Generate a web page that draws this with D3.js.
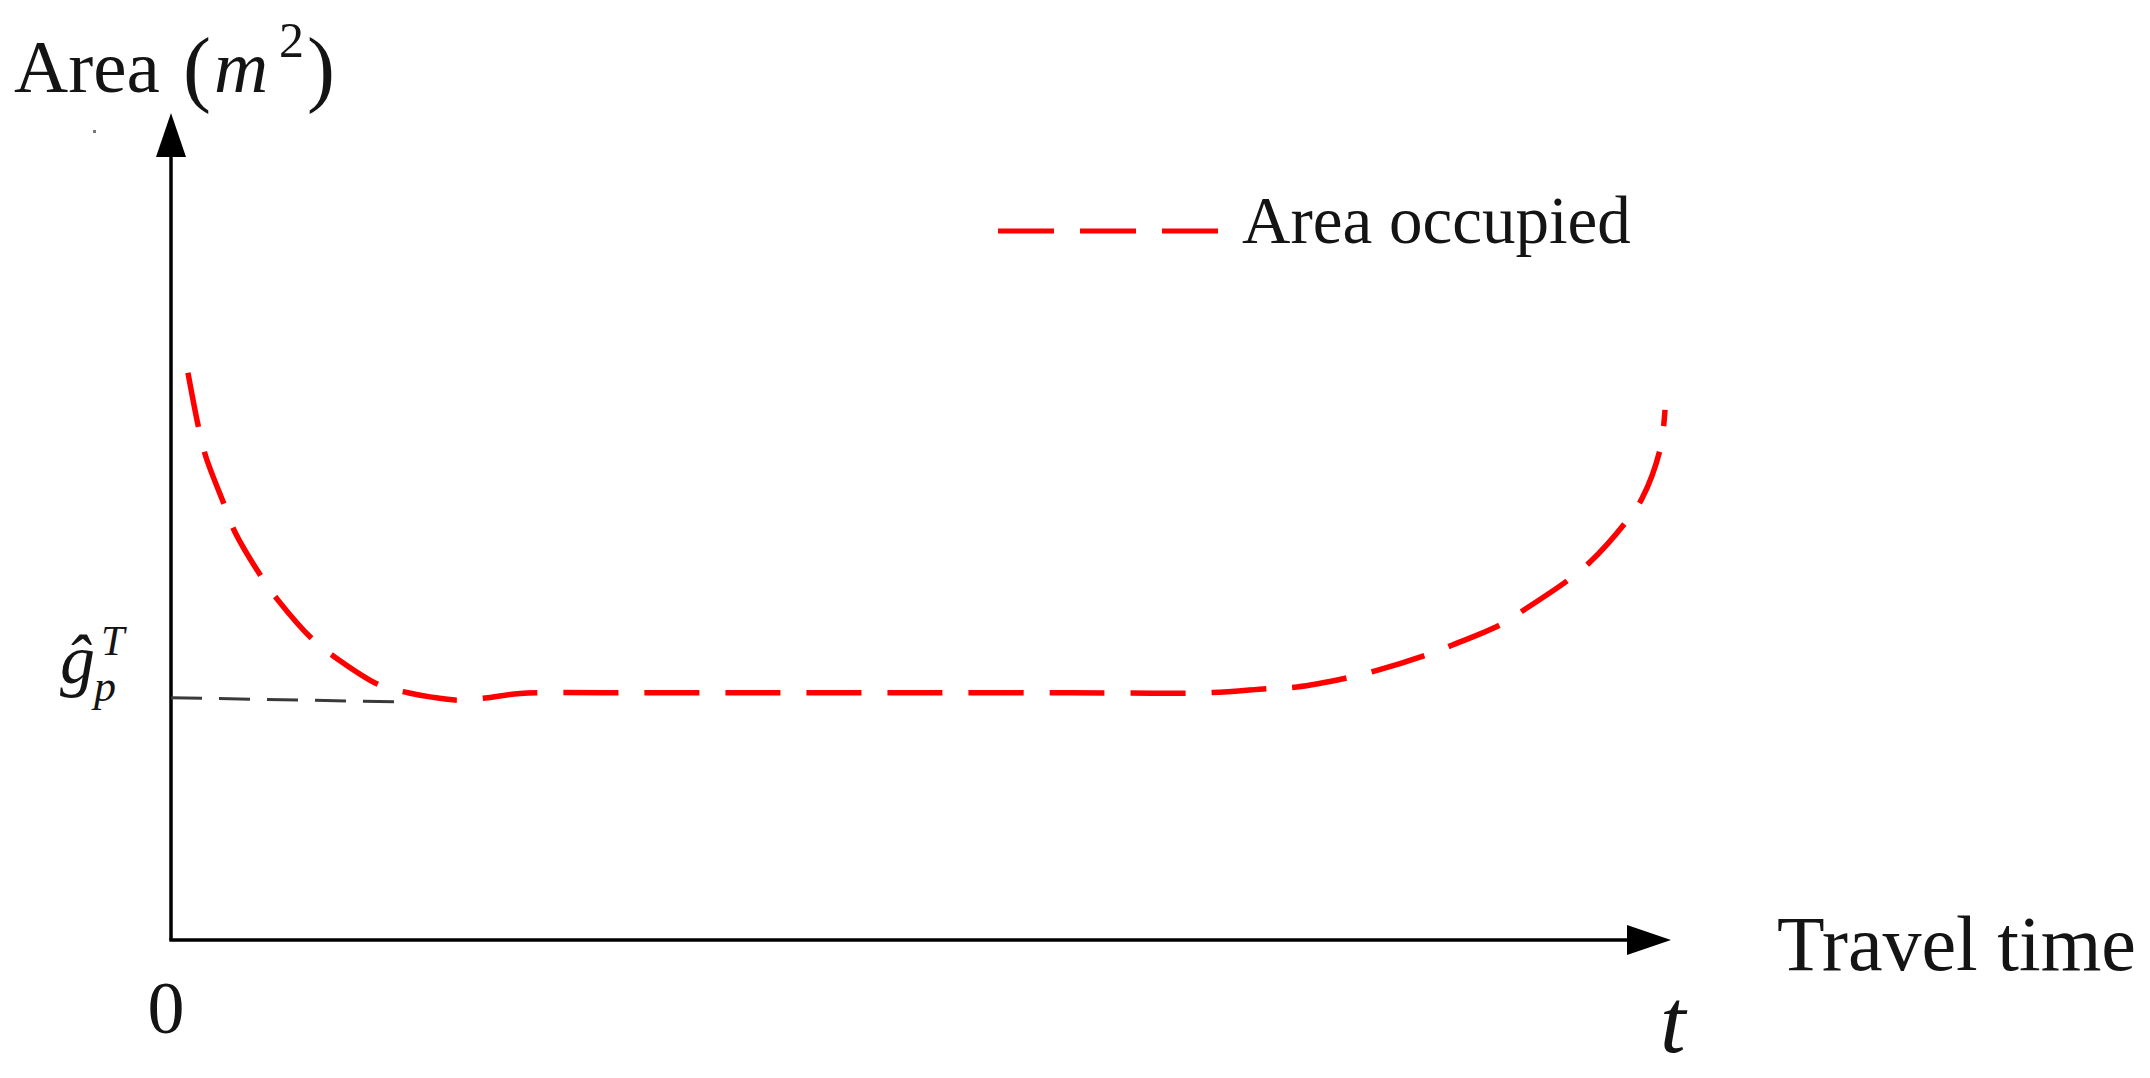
<!DOCTYPE html>
<html>
<head>
<meta charset="utf-8">
<script src="https://cdn.jsdelivr.net/npm/d3@7"></script>
<style>
  html, body { margin: 0; padding: 0; background: #fff; }
  svg { display: block; }
  text { font-family: "Liberation Serif", "Times New Roman", serif; fill: #141414; }
</style>
</head>
<body>
<svg id="chart" width="2150" height="1078"></svg>
<script>
// ---- data ----
const curveTime = [1.13, 1.87, 2.33, 3.6, 4.27, 6.07, 7.13, 9.47, 10.93, 13.93, 15.8, 17.27, 19.13, 21.13, 23.27,
                   30, 40, 50, 60, 69.13, 73.13, 75.07, 78.4, 80.4, 83.73, 85.47, 88.6, 90.27, 93.13, 94.6, 96.93, 98.07, 99.27, 99.6];
const curveArea = [68.6, 61.7, 58.4, 52.4, 49.3, 43.8, 41.1, 36.3, 34.2, 30.8, 29.9, 29.4, 29.0, 29.3, 29.8,
                   29.9, 29.9, 29.9, 29.9, 29.9, 30.4, 30.6, 31.7, 32.6, 34.5, 35.7, 38.1, 40.0, 43.5, 45.7, 50.4, 53.4, 59.3, 64.1];
const refTime = [0, 15];
const refArea = [29.3, 28.8];
const seriesName = "Area occupied";
const xAxisLabel = "Travel time";
const xTickLabels = ["0"];
const xSymbol = "t";

// ---- layout ----
const svg = d3.select("#chart");
const x = d3.scaleLinear().domain([0, 100]).range([171, 1671]);
const y = d3.scaleLinear().domain([0, 100]).range([940, 113]);

const arrowLen = 44, arrowHalf = 15;

// axes lines
svg.append("line")
  .attr("x1", x(0) - 1.7).attr("y1", y(0))
  .attr("x2", x(100) - arrowLen + 2).attr("y2", y(0))
  .attr("stroke", "#000").attr("stroke-width", 3.5);
svg.append("path")
  .attr("d", `M${x(100)},${y(0)} L${x(100) - arrowLen},${y(0) - arrowHalf} L${x(100) - arrowLen},${y(0) + arrowHalf} Z`)
  .attr("fill", "#000");

svg.append("line")
  .attr("x1", x(0)).attr("y1", y(0))
  .attr("x2", x(0)).attr("y2", y(100) + arrowLen - 2)
  .attr("stroke", "#000").attr("stroke-width", 3.5);
svg.append("path")
  .attr("d", `M${x(0)},${y(100)} L${x(0) - arrowHalf},${y(100) + arrowLen} L${x(0) + arrowHalf},${y(100) + arrowLen} Z`)
  .attr("fill", "#000");

// reference dashed line
const refData = refTime.map((t, i) => ({t, a: refArea[i]}));
svg.append("path")
  .datum(refData)
  .attr("d", d3.line().x(d => x(d.t)).y(d => y(d.a)))
  .attr("fill", "none")
  .attr("stroke", "#3a3a3a")
  .attr("stroke-width", 3)
  .attr("stroke-dasharray", "31,17");

// red curve
const curveData = curveTime.map((t, i) => ({t, a: curveArea[i]}));
svg.append("path")
  .datum(curveData)
  .attr("d", d3.line().x(d => x(d.t)).y(d => y(d.a)).curve(d3.curveCatmullRom.alpha(0.5)))
  .attr("fill", "none")
  .attr("stroke", "#ff0000")
  .attr("stroke-width", 5.5)
  .attr("stroke-dasharray", "55,26");

// legend
svg.append("line")
  .attr("x1", 998).attr("y1", 231).attr("x2", 1219).attr("y2", 231)
  .attr("stroke", "#ff0000").attr("stroke-width", 5)
  .attr("stroke-dasharray", "56,26");
svg.append("text")
  .attr("x", 1242).attr("y", 243)
  .attr("font-size", 67)
  .text(seriesName);

// y axis title: Area (m^2)
svg.append("text").attr("x", 14).attr("y", 92).attr("font-size", 75).text("Area");
svg.append("text").attr("x", 183).attr("y", 96).attr("font-size", 84).text("(");
svg.append("text").attr("x", 214).attr("y", 92).attr("font-size", 75).attr("font-style", "italic").text("m");
svg.append("text").attr("x", 279).attr("y", 57).attr("font-size", 50).text("2");
svg.append("text").attr("x", 307).attr("y", 96).attr("font-size", 84).text(")");
svg.append("rect").attr("x", 93).attr("y", 130).attr("width", 3).attr("height", 3).attr("fill", "#777");

// g-hat label
svg.append("text").attr("x", 60).attr("y", 683).attr("font-size", 70).attr("font-style", "italic").text("ĝ");
svg.append("text").attr("x", 101).attr("y", 655).attr("font-size", 42).attr("font-style", "italic").text("T");
svg.append("text").attr("x", 94).attr("y", 701).attr("font-size", 44).attr("font-style", "italic").text("p");

// x axis labels
svg.append("text")
  .attr("x", x(0) - 5).attr("y", 1033)
  .attr("font-size", 74).attr("text-anchor", "middle")
  .text(xTickLabels[0]);
svg.append("text")
  .attr("x", 1777).attr("y", 970)
  .attr("font-size", 78)
  .text(xAxisLabel);
svg.append("text")
  .attr("x", 1660).attr("y", 1052)
  .attr("font-size", 92).attr("font-style", "italic")
  .text(xSymbol);
</script>
</body>
</html>
